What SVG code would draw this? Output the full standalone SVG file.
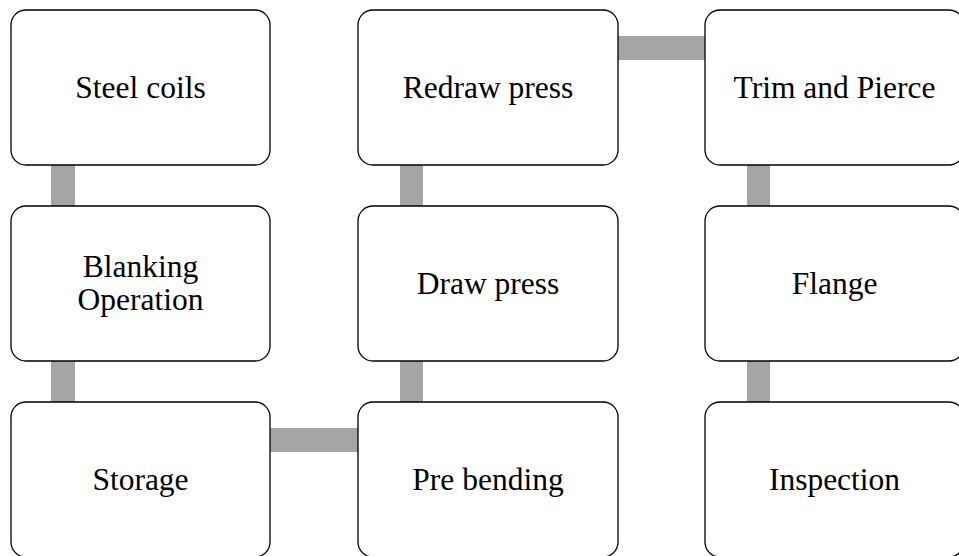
<svg xmlns="http://www.w3.org/2000/svg" width="959" height="556" viewBox="0 0 959 556">
  <style>
    .box { fill: #ffffff; stroke: #000000; stroke-width: 1.3; }
    .link { fill: #a5a5a5; stroke: none; }
    .label { font-family: "Liberation Serif", "Times New Roman", serif; font-size: 31.5px; fill: #000000; text-anchor: middle; }
  </style>
  <rect x="0" y="0" width="959" height="556" fill="#ffffff"/>

  <!-- connectors -->
  <g id="connectors">
    <rect class="link" x="51" y="165" width="24" height="41"/>
    <rect class="link" x="51" y="361" width="24" height="41"/>
    <rect class="link" x="270" y="428" width="88" height="24"/>
    <rect class="link" x="400" y="361" width="23" height="41"/>
    <rect class="link" x="400" y="165" width="23" height="41"/>
    <rect class="link" x="618" y="36" width="87" height="24"/>
    <rect class="link" x="747" y="165" width="23" height="41"/>
    <rect class="link" x="747" y="361" width="23" height="41"/>
  </g>

  <!-- column 1 -->
  <g id="steel-coils">
    <rect class="box" x="11" y="10" width="259" height="155" rx="15"/>
    <text class="label" x="140.5" y="98">Steel coils</text>
  </g>
  <g id="blanking-operation">
    <rect class="box" x="11" y="206" width="259" height="155" rx="15"/>
    <text class="label" x="140.5" y="277">Blanking</text>
    <text class="label" x="140.5" y="309.5">Operation</text>
  </g>
  <g id="storage">
    <rect class="box" x="11" y="402" width="259" height="155" rx="15"/>
    <text class="label" x="140.5" y="490">Storage</text>
  </g>

  <!-- column 2 -->
  <g id="redraw-press">
    <rect class="box" x="358" y="10" width="260" height="155" rx="15"/>
    <text class="label" x="488" y="98">Redraw press</text>
  </g>
  <g id="draw-press">
    <rect class="box" x="358" y="206" width="260" height="155" rx="15"/>
    <text class="label" x="488" y="294">Draw press</text>
  </g>
  <g id="pre-bending">
    <rect class="box" x="358" y="402" width="260" height="155" rx="15"/>
    <text class="label" x="488" y="490">Pre bending</text>
  </g>

  <!-- column 3 -->
  <g id="trim-and-pierce">
    <rect class="box" x="705" y="10" width="259" height="155" rx="15"/>
    <text class="label" x="834.5" y="98">Trim and Pierce</text>
  </g>
  <g id="flange">
    <rect class="box" x="705" y="206" width="259" height="155" rx="15"/>
    <text class="label" x="834.5" y="294">Flange</text>
  </g>
  <g id="inspection">
    <rect class="box" x="705" y="402" width="259" height="155" rx="15"/>
    <text class="label" x="834.5" y="490">Inspection</text>
  </g>
</svg>
